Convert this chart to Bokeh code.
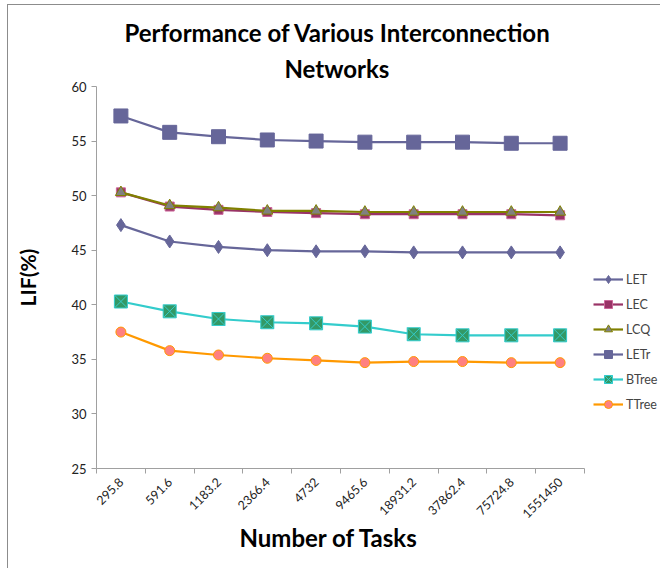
from bokeh.plotting import figure
from bokeh.models import Title, Legend, LegendItem, FixedTicker, ColumnDataSource
from bokeh.embed import file_html
from bokeh.resources import INLINE
import math

tasks = ["295.8", "591.6", "1183.2", "2366.4", "4732", "9465.6", "18931.2", "37862.4", "75724.8", "1551450"]
LET = [47.3, 45.8, 45.3, 45.0, 44.9, 44.9, 44.8, 44.8, 44.8, 44.8]
LEC = [50.3, 49.0, 48.7, 48.5, 48.4, 48.3, 48.3, 48.3, 48.3, 48.2]
LCQ = [50.3, 49.1, 48.9, 48.6, 48.6, 48.5, 48.5, 48.5, 48.5, 48.5]
LETr = [57.3, 55.8, 55.4, 55.1, 55.0, 54.9, 54.9, 54.9, 54.8, 54.8]
BTree = [40.3, 39.4, 38.7, 38.4, 38.3, 38.0, 37.3, 37.2, 37.2, 37.2]
TTree = [37.5, 35.8, 35.4, 35.1, 34.9, 34.7, 34.8, 34.8, 34.7, 34.7]
y_ticks = [25, 30, 35, 40, 45, 50, 55, 60]
title_lines = ["Performance of Various Interconnection", "Networks"]
x_title = "Number of Tasks"
y_title = "LIF(%)"

FONT = "Lato"

n = len(tasks)
xpos = [i + 0.5 for i in range(n)]
bounds_ticks = list(range(n + 1))

FRAME_W = 565
CAT_W = 48.8
p = figure(x_range=(0, FRAME_W / CAT_W), y_range=(25, 60), width=653, height=564,
           output_backend="svg", toolbar_location=None,
           min_border_left=88, min_border_right=0, min_border_top=81, min_border_bottom=101)
p.styles = {"border-top": "1px solid #8c8c8c", "border-left": "1px solid #8c8c8c",
            "margin-left": "7px", "margin-top": "4px"}
p.outline_line_color = None
p.xgrid.grid_line_color = None
p.ygrid.grid_line_color = None
p.background_fill_color = "white"

p.yaxis.ticker = FixedTicker(ticks=y_ticks)
p.xaxis.ticker = FixedTicker(ticks=xpos, minor_ticks=bounds_ticks)
p.xaxis.major_label_overrides = {x: t for x, t in zip(xpos, tasks)}
p.xaxis.bounds = (0, n)
for ax in (p.xaxis[0], p.yaxis[0]):
    ax.axis_line_color = "#a0a0a0"
    ax.major_tick_line_color = "#a0a0a0"
    ax.minor_tick_line_color = None
    ax.major_tick_in = 0
    ax.major_tick_out = 5
    ax.major_label_text_font = FONT
    ax.major_label_text_color = "#222222"
    ax.axis_label_text_font = FONT
    ax.axis_label_text_font_style = "bold"
    ax.axis_label_text_color = "black"
p.xaxis.major_tick_out = 0
p.xaxis.minor_tick_line_color = "#a0a0a0"
p.xaxis.minor_tick_out = 5
p.xaxis.minor_tick_in = 0
p.yaxis.major_label_text_font_size = "13px"
p.xaxis.major_label_text_font_size = "12.5px"
p.xaxis.major_label_orientation = math.pi / 4
p.xaxis.major_label_standoff = 6
p.yaxis.axis_label = y_title
p.yaxis.axis_label_text_font_size = "21px"
p.yaxis.axis_label_standoff = 28

series = [
    ("LET", LET, "#666699", "diamond", "#666699", "#666699", 13),
    ("LEC", LEC, "#993366", "square", "#993366", "#cc6699", 9),
    ("LCQ", LCQ, "#808000", "triangle", "#808080", "#808000", 11),
    ("LETr", LETr, "#666699", "square", "#666699", "#666699", 14),
    ("BTree", BTree, "#33CCCC", "square_x", "#339966", "#33CCCC", 13),
    ("TTree", TTree, "#FF9900", "circle", "#FF8080", "#FF9900", 10),
]

items = []
for name, vals, lc, mk, fc, mlc, sz in series:
    src = ColumnDataSource(dict(x=xpos, y=vals))
    r1 = p.line("x", "y", source=src, line_color=lc, line_width=2.2)
    r2 = p.scatter("x", "y", source=src, marker=mk, size=sz, fill_color=fc, line_color=mlc, line_width=1)
    items.append(LegendItem(label=name, renderers=[r1, r2]))

legend = Legend(items=items, location=(497, 54), background_fill_alpha=0,
                border_line_color=None, label_text_font=FONT, label_text_font_size="12.5px",
                glyph_width=30, glyph_height=20, spacing=5, label_standoff=3,
                padding=0, margin=0)
p.add_layout(legend)

# title lines (bottom line added first so it sits nearest the frame)
p.add_layout(Title(text=title_lines[1], align="left", offset=188, text_font=FONT,
                   text_font_style="bold", text_font_size="24px", text_color="black",
                   standoff=8), "above")
p.add_layout(Title(text=title_lines[0], align="left", offset=28, text_font=FONT,
                   text_font_style="bold", text_font_size="24px", text_color="black",
                   standoff=2), "above")

p.add_layout(Title(text=x_title, align="left", offset=143, text_font=FONT,
                   text_font_style="bold", text_font_size="24px", text_color="black",
                   standoff=-9), "below")

open("out.html", "w").write(file_html(p, INLINE))
